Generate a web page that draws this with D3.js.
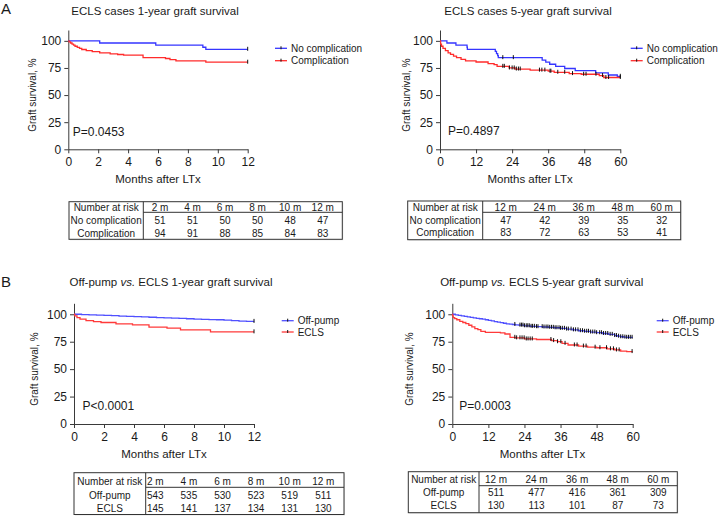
<!DOCTYPE html>
<html><head><meta charset="utf-8">
<script src="https://cdn.jsdelivr.net/npm/d3@7"></script>
<style>body{margin:0;background:#fff} svg{display:block;font-family:"Liberation Sans",Arial,Helvetica,sans-serif}</style>
</head><body><svg id="c" width="720" height="518"></svg>
<script>
// ---------- DATA ----------
// Panel A1: ECLS cases 1-year
const a1NoCompT = [0, 2.1, 5.85, 9.0, 9.2, 12];
const a1NoCompS = [100, 98, 96.1, 94.1, 92.2, 92.2];
const a1CompT = [0,0.05,0.15,0.25,0.35,0.45,0.6,0.75,0.9,1.2,1.6,2.1,2.8,3.3,3.7,5.0,6.5,6.8,7.2,9.2,12];
const a1CompS = [100,99,98,97,96,95,94,93,92,91,90,89,88,87.4,86.8,84.5,83.7,82.7,81.6,80.3,80.3];
const a1NoCompCens = [12];
const a1CompCens = [12];
// Panel A2: ECLS cases 5-year
const a2NoCompT = [0,2.3,5.3,9.0,9.1,18.4,18.8,19.2,19.4,34,35.2,36.5,38.5,41.5,45,51.8,56,59,60];
const a2NoCompS = [100,98,96.1,94.1,92.2,90.2,88.2,86.3,84.5,82.3,80.4,78.4,76.4,74.5,72.5,70.5,68.5,67.3,67.3];
const a2CompT = [0,0.2,0.5,1,1.8,2.7,3.5,4.5,5.5,7,8.5,12,16,18,19,23,25,30,36,38,43,47,53,54.5,60];
const a2CompS = [100,97,95,93,91,89,87.5,86,84.5,83,81.5,80.5,79,78,76.5,75,74,73,72,71,69.8,69.2,68,66.2,66.2];
const a2NoCompCens = [20.9,24.4,60];
const a2CompCens = [20.9,21.4,23.1,24.0,24.7,25.4,26.1,26.7,33.1,33.9,34.9,36.6,36.9,39.2,41.5,44.1,47.8,48.6,51.9,54.1,55.2,56.1,60];
// Panel B1: Off-pump vs ECLS 1-year
const b1OffT = [0,0.5,1,1.5,2,2.5,3,3.5,4,4.5,5,5.5,6,6.5,7,7.5,8,8.5,9,9.5,10,10.5,11,11.5,12];
const b1OffS = [100,99.7,99.4,99.2,99,98.7,98.4,98.1,97.8,97.6,97.3,97,96.7,96.5,96.2,95.9,95.6,95.4,95.2,95,94.7,94.3,93.8,93.6,93.5];
const b1EclsT = [0,0.05,0.2,0.4,0.8,1.3,1.8,2.8,3.9,5.0,6.2,7.1,9.1,12];
const b1EclsS = [100,98.5,97,95.5,94.3,93.3,92.5,91.3,90.3,88.2,87.3,85.8,84,84];
const b1OffCens = [12];
const b1EclsCens = [12];
// Panel B2: Off-pump vs ECLS 5-year
const b2OffT = [0,1,2,3,4,5,6,7,8,9,10,11,12,13,14,15,16,17,18,19,20,21,22,24,26,28,30,32,34,36,38,40,42,44,46,48,50,52,54,55,56,57,58,60];
const b2OffS = [100,99.5,99,98.6,98.1,97.6,97.2,96.7,96.3,95.9,95.5,95,94.5,93.9,93.3,92.8,92.3,91.8,91.3,91,90.7,90.4,90.1,89.5,89,88.7,88.4,88.1,87.7,87.2,86.5,85.8,85,84.5,83.8,83.2,82.5,81.7,80.6,80,79.5,79.2,79,79];
const b2EclsT = [0,0.1,0.3,0.8,1.5,2.5,3.5,4.5,5.5,6.5,7.5,8.5,9.5,11,16,17.5,19.2,21,24,28,33,35,36.5,38.5,42,45,48,51.5,54,56,58,60];
const b2EclsS = [100,98.5,97,96,95,93.5,92.5,91.5,90,88.5,87,86,84.5,83.5,83,82,79,78.5,77.5,77,76,75,73.5,72,71,70,69.5,68.5,67.5,66.5,66,66];
const b2OffCens = [20.8,22.5,23,23.5,24,24.6,25.1,25.6,26.2,26.7,27.3,28,28.5,29.9,30.5,31.2,31.8,32.4,33,33.6,34.2,34.8,35.5,36,36.6,37.3,38,38.6,39.5,40.3,41,41.8,42.6,43.3,44,44.7,45.3,46,46.7,47.4,48,49,49.6,50.3,51,51.7,52.5,53.2,54,54.6,55.3,56,56.7,57.4,58,58.6,59.2,59.8];
const b2EclsCens = [20.8,21.4,22.5,23.2,23.9,24.6,25.2,25.9,26.6,32.8,33.7,35,36.1,37.5,40.6,41.5,43.6,44.5,47.5,49.1,51.3,52.6,53.6,54.6,55.5,59.8];
// Tick labels
const yTicks = [0,25,50,75,100];
const xTicks1y = [0,2,4,6,8,10,12];
const xTicks5y = [0,12,24,36,48,60];
// Tables
const a1Heads = ["2 m","4 m","6 m","8 m","10 m","12 m"];
const a1RiskNo = [51,51,50,50,48,47];
const a1RiskComp = [94,91,88,85,84,83];
const a2Heads = ["12 m","24 m","36 m","48 m","60 m"];
const a2RiskNo = [47,42,39,35,32];
const a2RiskComp = [83,72,63,53,41];
const b1Heads = ["2 m","4 m","6 m","8 m","10 m","12 m"];
const b1RiskOff = [543,535,530,523,519,511];
const b1RiskEcls = [145,141,137,134,131,130];
const b2Heads = ["12 m","24 m","36 m","48 m","60 m"];
const b2RiskOff = [511,477,416,361,309];
const b2RiskEcls = [130,113,101,87,73];

// ---------- DRAWING ----------
const svg = d3.select("#c");
svg.append("rect").attr("width",720).attr("height",518).attr("fill","#fff");
const AX = "#3a3a3a", TXT = "#1a1a1a";
const BLUE_A = "#3535ff", RED_A = "#ff2b2b", BLUE_B = "#5050ff", RED_B = "#ff3a3a";

function stepVal(T,S,t){ let v=S[0]; for(let i=0;i<T.length;i++){ if(T[i]<=t) v=S[i]; } return v; }

function panel(o){
  const x = d3.scaleLinear().domain([0,o.xMax]).range([o.x0,o.x1]);
  const y = d3.scaleLinear().domain([0,110]).range([o.yB,o.yT]);
  const g = svg.append("g");
  const xa = g.append("g").attr("transform",`translate(0,${o.yB})`)
    .call(d3.axisBottom(x).tickValues(o.xTicks).tickSize(4).tickSizeOuter(0).tickPadding(4));
  const ya = g.append("g").attr("transform",`translate(${o.x0},0)`)
    .call(d3.axisLeft(y).tickValues(yTicks).tickSize(4).tickSizeOuter(0).tickPadding(3));
  [xa,ya].forEach(a=>{
    a.selectAll("path,line").attr("stroke",AX).attr("stroke-width",1);
    a.selectAll("text").attr("fill",TXT).attr("font-size",12).attr("font-family",null);
  });
  // y label
  g.append("text").attr("transform",`translate(${o.ylx},${y(50)}) rotate(-90)`)
    .attr("text-anchor","middle").attr("dy","0.35em").attr("font-size",10).attr("fill",TXT).text("Graft survival, %");
  // x label
  g.append("text").attr("x",(o.x0+o.x1)/2).attr("y",o.yB+30).attr("dy","0.35em")
    .attr("text-anchor","middle").attr("font-size",11.5).attr("fill",TXT).text("Months after LTx");
  // title
  const tt = g.append("text").attr("x",o.tx).attr("y",o.ty).attr("text-anchor","middle").attr("font-size",11.5).attr("fill",TXT);
  o.title.forEach(p=>tt.append("tspan").attr("font-style",p[1]?"italic":null).text(p[0]));
  // P value
  g.append("text").attr("x",o.x0+o.pdx).attr("y",o.py).attr("font-size",12).attr("fill",TXT).text(o.p);
  // series
  const line = d3.line().x(d=>x(d[0])).y(d=>y(d[1])).curve(d3.curveStepAfter);
  o.series.forEach(s=>{
    const pts = s.T.map((t,i)=>[t,s.S[i]]);
    g.append("path").attr("d",line(pts)).attr("fill","none").attr("stroke",s.color).attr("stroke-width",1.3);
  });
  o.series.forEach(s=>{
    g.selectAll(null).data(s.cens).enter().append("line")
      .attr("x1",d=>x(d)).attr("x2",d=>x(d))
      .attr("y1",d=>y(stepVal(s.T,s.S,d))-2.5).attr("y2",d=>y(stepVal(s.T,s.S,d))+1.5)
      .attr("stroke","#111").attr("stroke-width",1);
  });
  // legend
  o.series.forEach((s,i)=>{
    const ly = o.ly + i*o.lgap;
    g.append("line").attr("x1",o.lx).attr("x2",o.lx+12).attr("y1",ly).attr("y2",ly).attr("stroke",s.color).attr("stroke-width",1.3);
    g.append("line").attr("x1",o.lx+6).attr("x2",o.lx+6).attr("y1",ly-2).attr("y2",ly+1).attr("stroke","#111");
    g.append("text").attr("x",o.lx+16).attr("y",ly).attr("dy","0.35em").attr("font-size",10).attr("fill",TXT).text(s.name);
  });
}

function table(o){
  const g = svg.append("g");
  const cx = d3.scalePoint().domain(o.heads).range([o.c0,o.c1]);
  g.append("rect").attr("x",o.l+1).attr("y",o.t+1).attr("width",o.r-o.l).attr("height",o.b-o.t).attr("fill","#e6e6e6");
  g.append("rect").attr("x",o.l).attr("y",o.t).attr("width",o.r-o.l).attr("height",o.b-o.t).attr("fill","#fff").attr("stroke","#333").attr("stroke-width",1);
  g.append("line").attr("x1",o.v).attr("x2",o.v).attr("y1",o.t).attr("y2",o.b).attr("stroke","#333");
  g.append("line").attr("x1",o.v).attr("x2",o.r).attr("y1",o.h).attr("y2",o.h).attr("stroke","#333");
  const lc = (o.l+o.v)/2;
  const rows = [["Number at risk", o.heads], [o.names[0], o.r1], [o.names[1], o.r2]];
  rows.forEach((row,i)=>{
    const yy = o.rows[i];
    g.append("text").attr("x",lc).attr("y",yy).attr("dy","0.35em").attr("text-anchor","middle").attr("font-size",10).attr("fill",TXT).text(row[0]);
    row[1].forEach((v,j)=>{
      g.append("text").attr("x",cx(o.heads[j])).attr("y",yy).attr("dy","0.35em").attr("text-anchor","middle").attr("font-size",10).attr("fill",TXT).text(v);
    });
  });
}

// Letters
svg.append("text").attr("x",1).attr("y",14).attr("font-size",15).attr("fill",TXT).text("A");
svg.append("text").attr("x",1).attr("y",287).attr("font-size",15).attr("fill",TXT).text("B");

panel({x0:68.3,x1:247.7,yT:30,yB:149.3,xMax:12,xTicks:xTicks1y,ylx:32,tx:155,ty:14.5,
  title:[["ECLS cases 1-year graft survival",false]],p:"P=0.0453",pdx:4.5,py:136,
  lx:275,ly:48.3,lgap:12.4,
  series:[{name:"No complication",color:BLUE_A,T:a1NoCompT,S:a1NoCompS,cens:a1NoCompCens},
          {name:"Complication",color:RED_A,T:a1CompT,S:a1CompS,cens:a1CompCens}]});
panel({x0:440,x1:620.3,yT:30,yB:149.3,xMax:60,xTicks:xTicks5y,ylx:406.7,tx:528,ty:14.5,
  title:[["ECLS cases 5-year graft survival",false]],p:"P=0.4897",pdx:8,py:134.5,
  lx:630.7,ly:48.3,lgap:12.4,
  series:[{name:"No complication",color:BLUE_A,T:a2NoCompT,S:a2NoCompS,cens:a2NoCompCens},
          {name:"Complication",color:RED_A,T:a2CompT,S:a2CompS,cens:a2CompCens}]});
panel({x0:74,x1:254,yT:303.3,yB:424,xMax:12,xTicks:xTicks1y,ylx:34.3,tx:171,ty:285.7,
  title:[["Off-pump ",false],["vs.",true],[" ECLS 1-year graft survival",false]],p:"P<0.0001",pdx:8.5,py:410,
  lx:281.7,ly:320.7,lgap:11.3,
  series:[{name:"Off-pump",color:BLUE_B,T:b1OffT,S:b1OffS,cens:b1OffCens},
          {name:"ECLS",color:RED_B,T:b1EclsT,S:b1EclsS,cens:b1EclsCens}]});
panel({x0:452.3,x1:632.7,yT:303.3,yB:424,xMax:60,xTicks:xTicks5y,ylx:409,tx:541.7,ty:285.7,
  title:[["Off-pump ",false],["vs.",true],[" ECLS 5-year graft survival",false]],p:"P=0.0003",pdx:7,py:410,
  lx:656.7,ly:320.7,lgap:11.3,
  series:[{name:"Off-pump",color:BLUE_B,T:b2OffT,S:b2OffS,cens:b2OffCens},
          {name:"ECLS",color:RED_B,T:b2EclsT,S:b2EclsS,cens:b2EclsCens}]});

table({l:69,r:342.3,t:201.7,b:239.3,h:212.3,v:143.3,c0:160,c1:322.7,rows:[207.2,220.5,233],
  heads:a1Heads,names:["No complication","Complication"],r1:a1RiskNo,r2:a1RiskComp});
table({l:407.7,r:680.7,t:201,b:239.7,h:212.3,v:482.7,c0:505.7,c1:661.7,rows:[207.2,220.3,232.8],
  heads:a2Heads,names:["No complication","Complication"],r1:a2RiskNo,r2:a2RiskComp});
table({l:74,r:344,t:472.7,b:514.5,h:487.3,v:145.7,c0:155.3,c1:323.3,rows:[481.5,495,508],
  heads:b1Heads,names:["Off-pump","ECLS"],r1:b1RiskOff,r2:b1RiskEcls});
table({l:408.3,r:677.3,t:471.7,b:512.7,h:485.7,v:479,c0:496,c1:658.3,rows:[479,492.5,505],
  heads:b2Heads,names:["Off-pump","ECLS"],r1:b2RiskOff,r2:b2RiskEcls});
</script></body></html>
